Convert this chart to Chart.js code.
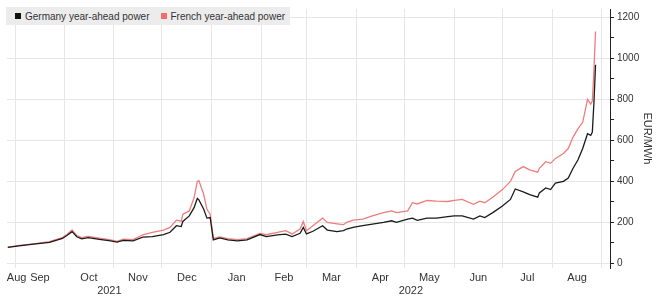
<!DOCTYPE html>
<html>
<head>
<meta charset="utf-8">
<script src="https://cdn.jsdelivr.net/npm/chart.js@4.4.1/dist/chart.umd.min.js"></script>
<style>
  html, body { margin: 0; padding: 0; background: #fff; }
  #wrap { position: relative; width: 658px; height: 297px; }
  #legend {
    position: absolute; left: 6px; top: 7px; width: 284px; height: 18px;
    background: #ececec; color: #333;
    font: 10px "Liberation Sans", Arial, sans-serif;
    display: flex; align-items: center; white-space: nowrap;
  }
  .item { display: flex; align-items: center; margin-left: 9px; flex: none; }
  .item + .item { margin-left: 11px; }
  .sw { width: 6px; height: 6px; margin-right: 4px; flex: none; }
</style>
</head>
<body>
<div id="wrap">
  <canvas id="chart" width="658" height="297"></canvas>
  <div id="legend">
    <div class="item"><span class="sw" style="background:#111"></span>Germany year-ahead power</div>
    <div class="item"><span class="sw" style="background:#f26d6d"></span>French year-ahead power</div>
  </div>
</div>
<script>
const dates = [
  "2021-08-27", "2021-09-03", "2021-09-12", "2021-09-22", "2021-09-30",
  "2021-10-03", "2021-10-06", "2021-10-09", "2021-10-12", "2021-10-16",
  "2021-10-23", "2021-10-30", "2021-11-03", "2021-11-07", "2021-11-13",
  "2021-11-19", "2021-11-25", "2021-12-02", "2021-12-06", "2021-12-10",
  "2021-12-13", "2021-12-14", "2021-12-18", "2021-12-21", "2021-12-23",
  "2021-12-24", "2021-12-27", "2021-12-29", "2021-12-31", "2022-01-02",
  "2022-01-06", "2022-01-11", "2022-01-17", "2022-01-23", "2022-01-31",
  "2022-02-04", "2022-02-11", "2022-02-16", "2022-02-20", "2022-02-25",
  "2022-02-27", "2022-03-01", "2022-03-05", "2022-03-11", "2022-03-14",
  "2022-03-20", "2022-03-24", "2022-03-26", "2022-03-30", "2022-04-05",
  "2022-04-11", "2022-04-18", "2022-04-23", "2022-04-26", "2022-05-03",
  "2022-05-06", "2022-05-09", "2022-05-15", "2022-05-21", "2022-05-28",
  "2022-06-01", "2022-06-06", "2022-06-13", "2022-06-17", "2022-06-20",
  "2022-06-25", "2022-07-01", "2022-07-06", "2022-07-09", "2022-07-14",
  "2022-07-18", "2022-07-23", "2022-07-24", "2022-07-28", "2022-07-31",
  "2022-08-03", "2022-08-08", "2022-08-11", "2022-08-14", "2022-08-17",
  "2022-08-20", "2022-08-23", "2022-08-25", "2022-08-26", "2022-08-27",
  "2022-08-28"
];

const germany = [
  78, 86, 94, 103, 122, 138, 155, 130, 120, 126,
  117, 110, 104, 113, 110, 128, 131, 141, 152, 184,
  180, 205, 232, 272, 317, 310, 264, 221, 224, 115,
  125, 115, 110, 115, 141, 131, 139, 143, 131, 147,
  176, 144, 157, 184, 163, 155, 160, 168, 176, 184,
  192, 200, 208, 200, 216, 221, 210, 221, 221, 228,
  232, 232, 216, 232, 224, 248, 280, 312, 363, 349,
  336, 323, 344, 368, 360, 392, 400, 416, 464, 504,
  560, 632, 624, 640, 784, 968
];

const france = [
  80, 88, 96, 106, 126, 142, 163, 136, 126, 132,
  123, 115, 108, 118, 116, 140, 152, 163, 176, 211,
  206, 240, 256, 320, 400, 404, 336, 264, 240, 122,
  130, 121, 116, 121, 147, 140, 152, 160, 144, 168,
  204, 160, 184, 221, 200, 193, 189, 200, 211, 216,
  232, 248, 256, 248, 256, 296, 290, 307, 304, 302,
  307, 312, 288, 304, 296, 323, 360, 400, 448, 472,
  456, 445, 464, 496, 488, 512, 536, 560, 616, 656,
  688, 800, 776, 792, 944, 1130
];

const monthStarts = [
  "2021-08-01", "2021-09-01", "2021-10-01", "2021-11-01", "2021-12-01",
  "2022-01-01", "2022-02-01", "2022-03-01", "2022-04-01", "2022-05-01",
  "2022-06-01", "2022-07-01", "2022-08-01", "2022-09-01"
];
const monthLabels = ["Aug", "Sep", "Oct", "Nov", "Dec", "Jan", "Feb", "Mar", "Apr", "May", "Jun", "Jul", "Aug"];
const yearStarts = ["2021-01-01", "2022-01-01", "2023-01-01"];
const yearLabels = ["2021", "2022"];
const yTicks = [0, 100, 200, 300, 400, 500, 600, 700, 800, 900, 1000, 1100, 1200];

// day numbers counted from 1 Sep 2021
const base = Date.UTC(2021, 8, 1);
const toDay = (s) => (Date.parse(s) - base) / 86400000;

const xMin = toDay("2021-08-26") + 0.5;
const xMax = toDay("2022-09-06");

const gridDays = monthStarts.map(toDay).filter((d) => d >= xMin && d <= xMax);

const monthMids = monthLabels.map((m, i) => {
  const a = Math.max(toDay(monthStarts[i]), xMin);
  const b = Math.min(toDay(monthStarts[i + 1]), xMax);
  return Math.max((a + b) / 2, xMin + 6);
});

const yearMids = yearLabels.map((y, i) => {
  const a = Math.max(toDay(yearStarts[i]), xMin);
  const b = Math.min(toDay(yearStarts[i + 1]), xMax);
  return (a + b) / 2;
});

const fontFamily = '"Liberation Sans", Arial, sans-serif';

const setTicks = (values) => (scale) => {
  scale.ticks = values.map((v) => ({ value: v }));
};

new Chart(document.getElementById("chart"), {
  type: "line",
  data: {
    datasets: [
      {
        label: "Germany year-ahead power",
        data: dates.map((d, i) => ({ x: toDay(d), y: germany[i] })),
        borderColor: "#1a1a1a",
        borderWidth: 1.3,
        pointRadius: 0,
        tension: 0,
      },
      {
        label: "French year-ahead power",
        data: dates.map((d, i) => ({ x: toDay(d), y: france[i] })),
        borderColor: "#ef7d7d",
        borderWidth: 1.3,
        pointRadius: 0,
        tension: 0,
      },
    ],
  },
  options: {
    responsive: false,
    animation: false,
    devicePixelRatio: 1,
    layout: { padding: { left: 7, top: 5, right: 0, bottom: 0 } },
    plugins: {
      legend: { display: false },
      tooltip: { enabled: false },
    },
    scales: {
      x: {
        type: "linear",
        position: "bottom",
        weight: 0,
        min: xMin,
        max: xMax,
        afterBuildTicks: setTicks(gridDays),
        afterFit: (s) => { s.height = 0; },
        grid: { color: "#e6e6e6", drawTicks: false },
        border: { display: false },
        ticks: { display: false },
      },
      xMonths: {
        type: "linear",
        position: "bottom",
        weight: 1,
        min: xMin,
        max: xMax,
        afterBuildTicks: setTicks(monthMids),
        afterFit: (s) => { s.height = 16; },
        grid: { display: false, drawTicks: false },
        border: { display: false },
        ticks: {
          autoSkip: false,
          maxRotation: 0,
          padding: 3,
          color: "#333",
          font: { family: fontFamily, size: 11 },
          callback: (v, i) => monthLabels[i],
        },
      },
      xYears: {
        type: "linear",
        position: "bottom",
        weight: 2,
        min: xMin,
        max: xMax,
        afterBuildTicks: setTicks(yearMids),
        afterFit: (s) => { s.height = 13; },
        grid: { display: false, drawTicks: false },
        border: { display: false },
        ticks: {
          autoSkip: false,
          maxRotation: 0,
          padding: 0,
          color: "#333",
          font: { family: fontFamily, size: 11 },
          callback: (v, i) => yearLabels[i],
        },
      },
      y: {
        position: "right",
        min: -22,
        max: 1240,
        afterBuildTicks: setTicks(yTicks),
        afterFit: (s) => { s.width = 48; },
        grid: {
          color: (ctx) => (ctx.tick && ctx.tick.value % 200 === 0 ? "#e6e6e6" : "rgba(0,0,0,0)"),
          tickColor: "#222",
          tickLength: 4,
        },
        border: { display: true, color: "#222", width: 1 },
        ticks: {
          padding: 3,
          color: "#333",
          font: { family: fontFamily, size: 10 },
          callback: (v) => (v % 200 === 0 ? v : ""),
        },
        title: {
          display: true,
          text: "EUR/MWh",
          color: "#333",
          font: { family: fontFamily, size: 11 },
          padding: 4,
        },
      },
    },
  },
});
</script>
</body>
</html>
